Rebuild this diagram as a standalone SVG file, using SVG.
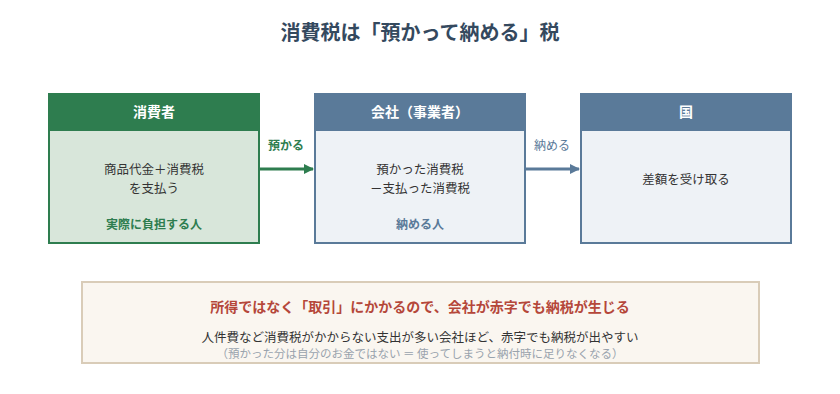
<svg xmlns="http://www.w3.org/2000/svg" width="840" height="394" viewBox="0 0 840 394">
<style>
text{font-family:"Noto Sans CJK JP","Noto Sans",sans-serif;text-anchor:middle}
.hd{font-size:14px;font-weight:bold;fill:#fff}
.bd{font-size:12.5px;fill:#333}
.lbl{font-size:12px;font-weight:bold}
</style>
<defs>
<marker id="ag" markerWidth="10" markerHeight="10" refX="9" refY="5" orient="auto" markerUnits="userSpaceOnUse"><path d="M0,0 L10,5 L0,10 z" fill="#2e7d4f"/></marker>
<marker id="ab" markerWidth="10" markerHeight="10" refX="9" refY="5" orient="auto" markerUnits="userSpaceOnUse"><path d="M0,0 L10,5 L0,10 z" fill="#5a7a99"/></marker>
</defs>
<rect width="840" height="394" fill="#fff"/>
<text x="420" y="40" style="font-size:20px;font-weight:bold;fill:#34495e">消費税は「預かって納める」税</text>
<g id="consumer">
<rect x="49" y="94" width="210" height="149" fill="#d8e6da" stroke="#2e7d4f" stroke-width="2"/>
<rect x="49" y="94" width="210" height="37" fill="#2e7d4f"/>
<text class="hd" x="154" y="117">消費者</text>
<text class="bd" x="154" y="174">商品代金＋消費税</text>
<text class="bd" x="154" y="192.5">を支払う</text>
<text class="lbl" x="154" y="229" fill="#2e7d4f">実際に負担する人</text>
</g>
<g id="company">
<rect x="315" y="94" width="210" height="149" fill="#eef2f6" stroke="#5a7a99" stroke-width="2"/>
<rect x="315" y="94" width="210" height="37" fill="#5a7a99"/>
<text class="hd" x="420" y="117">会社（事業者）</text>
<text class="bd" x="420" y="174">預かった消費税</text>
<text class="bd" x="420" y="192.5">－支払った消費税</text>
<text class="lbl" x="420" y="229" fill="#5a7a99">納める人</text>
</g>
<g id="country">
<rect x="581" y="94" width="210" height="149" fill="#eef2f6" stroke="#5a7a99" stroke-width="2"/>
<rect x="581" y="94" width="210" height="37" fill="#5a7a99"/>
<text class="hd" x="686" y="117">国</text>
<text class="bd" x="686" y="184">差額を受け取る</text>
</g>
<g id="connectors">
<line x1="260" y1="169" x2="313" y2="169" stroke="#2e7d4f" stroke-width="3" marker-end="url(#ag)"/>
<text class="lbl" x="286" y="150" fill="#2e7d4f">預かる</text>
<line x1="526" y1="169" x2="579" y2="169" stroke="#5a7a99" stroke-width="3" marker-end="url(#ab)"/>
<text class="lbl" x="552" y="150" fill="#5a7a99" style="font-weight:normal">納める</text>
</g>
<g id="note">
<rect x="82" y="282" width="677" height="81" fill="#faf6f0" stroke="#d9ccb8" stroke-width="2"/>
<text x="420" y="312" style="font-size:14px;font-weight:bold;fill:#b5473a">所得ではなく「取引」にかかるので、会社が赤字でも納税が生じる</text>
<text x="420" y="342" style="font-size:12.5px;fill:#333">人件費など消費税がかからない支出が多い会社ほど、赤字でも納税が出やすい</text>
<text x="420" y="358" style="font-size:11.5px;fill:#99a3ad">（預かった分は自分のお金ではない ＝ 使ってしまうと納付時に足りなくなる）</text>
</g>
</svg>
